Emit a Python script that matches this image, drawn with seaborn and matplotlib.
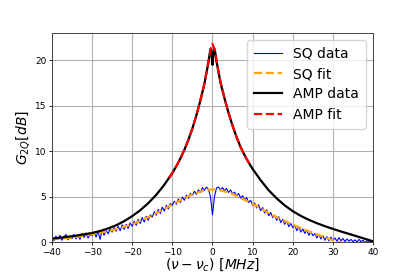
import numpy as np
import pandas as pd
import matplotlib
matplotlib.use("Agg")
import matplotlib.pyplot as plt
import seaborn as sns

# ---- data ----
sq_x = np.arange(-40, 40.01, 0.5)
sq_data = [
    0.55, 0.15, 0.65, 0.30, 0.75, 0.20, 0.55, 0.85, 0.25, 0.60,
    0.40, 0.85, 0.35, 0.75, 0.30, 0.95, 0.50, 1.00, 0.45, 0.80,
    0.70, 1.10, 0.55, 1.20, 0.30, 1.25, 0.75, 1.35, 0.90, 1.45,
    1.10, 1.60, 1.20, 1.75, 1.25, 1.90, 1.40, 1.95, 1.50, 2.10,
    1.75, 2.30, 1.85, 2.50, 2.05, 2.70, 2.20, 2.85, 2.40, 3.00,
    2.75, 3.35, 2.95, 3.60, 3.15, 3.85, 3.40, 4.05, 3.65, 4.25,
    4.05, 4.50, 4.15, 4.75, 4.35, 4.95, 4.60, 5.15, 4.80, 5.35,
    5.15, 5.60, 5.25, 5.75, 5.45, 6.00, 5.70, 6.05, 5.80, 5.00,
    3.00,
    5.00, 5.95, 6.05, 5.75, 6.00, 5.65, 5.90, 5.45, 5.75, 5.30,
    5.50, 5.05, 5.35, 4.85, 5.10, 4.60, 4.90, 4.35, 4.60, 4.05,
    4.30, 3.75, 4.10, 3.45, 3.80, 3.20, 3.55, 2.90, 3.25, 2.70,
    2.95, 2.40, 2.80, 2.15, 2.50, 1.95, 2.30, 1.70, 2.05, 1.60,
    1.85, 1.25, 1.70, 1.10, 1.45, 0.95, 1.30, 0.75, 1.15, 0.70,
    0.95, 0.45, 0.85, 0.35, 0.70, 0.20, 0.60, 0.15, 0.55, 0.20,
    0.45, 0.10, 0.50, 0.15, 0.40, 0.05, 0.35, 0.10, 0.30, 0.05,
    0.25, 0.00, 0.30, 0.05, 0.20, -0.05, 0.15, 0.00, 0.10, -0.05,
]

sqfit_x = [-40, -35, -30, -25, -20, -15, -10, -5, -2, 0, 2, 5, 10, 15, 20, 25, 30, 35, 40]
sqfit_y = [0.30, 0.50, 0.85, 1.30, 1.95, 2.95, 4.15, 5.25, 5.70, 5.80, 5.70, 5.30,
           4.20, 2.95, 1.90, 1.00, 0.20, -0.40, -0.90]

amp_x = [-40, -38, -36, -34, -32, -30, -28, -26, -24, -22, -20, -18, -16, -14, -12,
         -10, -9, -8, -7, -6, -5, -4, -3, -2, -1.5, -1, -0.6, -0.4, -0.2, 0, 0.2,
         0.4, 0.6, 1, 1.5, 2, 3, 4, 5, 6, 7, 8, 9, 10, 12, 14, 16, 18, 20, 22, 24,
         26, 28, 30, 32, 34, 36, 38, 40]
amp_data = [0.38, 0.48, 0.59, 0.71, 0.85, 1.00, 1.22, 1.50, 1.85, 2.30, 2.85, 3.50,
            4.28, 5.20, 6.30, 7.60, 8.35, 9.20, 10.15, 11.25, 12.50, 13.95, 15.60,
            17.45, 18.60, 19.80, 21.00, 21.30, 20.50, 19.50, 20.50, 21.30, 21.10,
            19.90, 18.70, 17.55, 15.80, 14.20, 12.80, 11.55, 10.45, 9.55, 8.75,
            8.05, 6.80, 5.70, 4.80, 4.03, 3.40, 2.88, 2.45, 2.08, 1.75, 1.45, 1.17,
            0.90, 0.63, 0.36, 0.08]

ampfit_x = [-10.8, -10, -9, -8, -7, -6, -5, -4, -3, -2, -1.5, -1, -0.5, 0, 0.5, 1,
            1.5, 2, 3, 4, 5, 6, 7, 8, 9.3]
ampfit_y = [7.08, 7.60, 8.35, 9.20, 10.15, 11.25, 12.50, 13.95, 15.60, 17.45, 18.65,
            19.90, 21.10, 21.80, 21.20, 20.00, 18.75, 17.60, 15.80, 14.20, 12.80,
            11.55, 10.45, 9.55, 8.55]

# ---- plot ----
fig = plt.figure(figsize=(4.15, 2.77), dpi=100)
ax = fig.add_axes([0.125, 0.126, 0.774, 0.755])

sns.lineplot(x=sq_x, y=sq_data, ax=ax, color="blue", lw=0.8, label="SQ data")
sns.lineplot(x=sqfit_x, y=sqfit_y, ax=ax, color="orange", lw=1.6, ls="--", label="SQ fit")
sns.lineplot(x=amp_x, y=amp_data, ax=ax, color="black", lw=1.6, label="AMP data")
sns.lineplot(x=ampfit_x, y=ampfit_y, ax=ax, color="red", lw=1.6, ls="--", label="AMP fit")

ax.set_xlim(-40, 40)
ax.set_ylim(0, 23)
ax.set_xticks([-40, -30, -20, -10, 0, 10, 20, 30, 40])
ax.set_yticks([0, 5, 10, 15, 20])
ax.grid(True, color="#b0b0b0", lw=0.8)
ax.tick_params(labelsize=6.5, length=2.5, width=0.6, pad=1.5)
for s in ax.spines.values():
    s.set_linewidth(0.7)
    s.set_color("#444444")

ax.set_xlabel(r"$(\nu-\nu_c)\ [MHz]$", fontsize=10, labelpad=0)
ax.set_ylabel(r"$G_{2Q}[dB]$", fontsize=10, labelpad=2)
ax.legend(loc="upper right", fontsize=10, handlelength=2.0, borderpad=0.5,
          labelspacing=0.45, framealpha=0.8)

fig.savefig("out.png", dpi=100)
